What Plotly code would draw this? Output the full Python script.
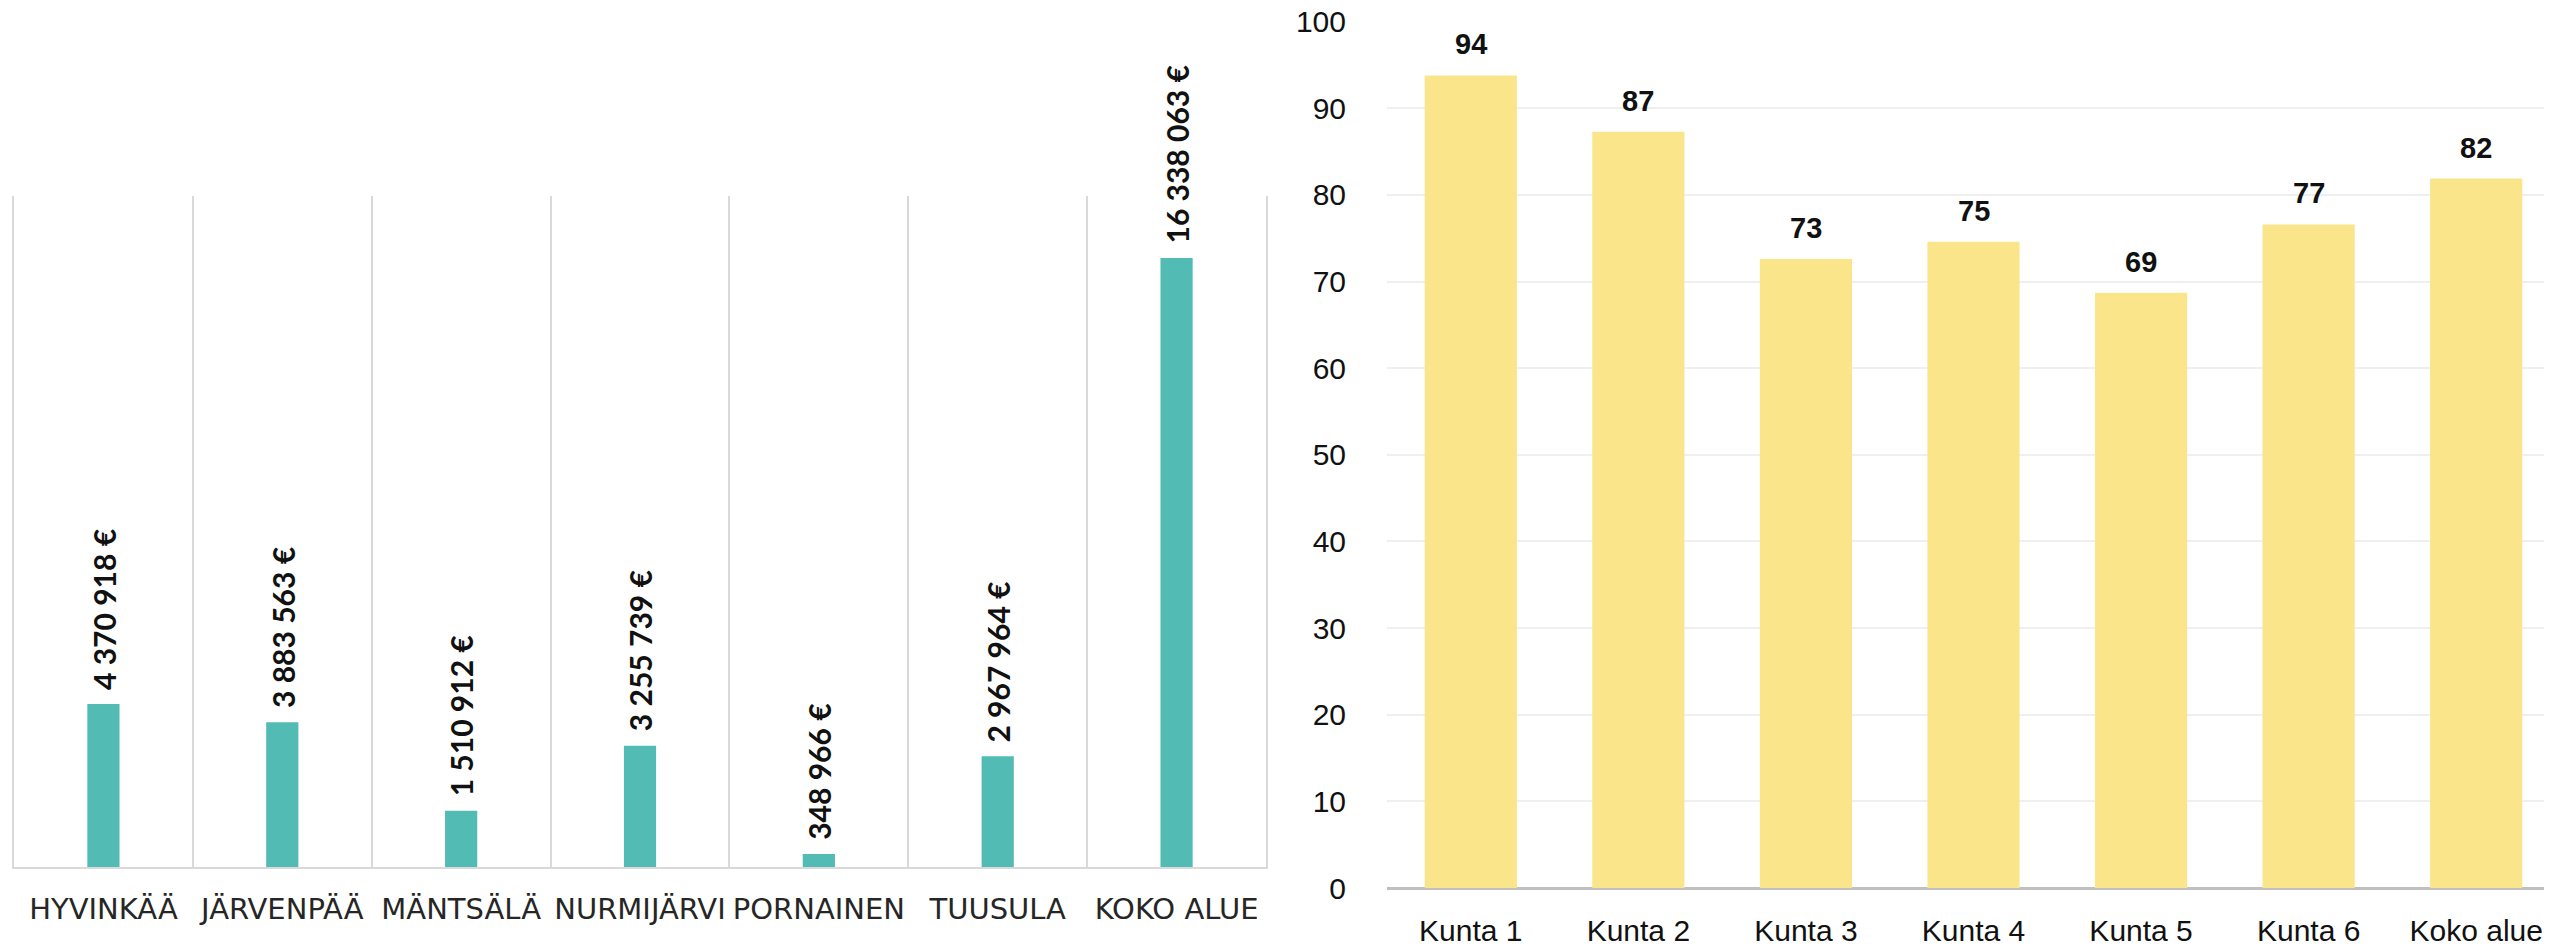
import plotly.graph_objects as go

# Left chart data
left_categories = ["HYVINKÄÄ", "JÄRVENPÄÄ", "MÄNTSÄLÄ", "NURMIJÄRVI", "PORNAINEN", "TUUSULA", "KOKO ALUE"]
left_values = [4370918, 3883563, 1510912, 3255739, 348966, 2967964, 16338063]

# Right chart data
right_categories = ["Kunta 1", "Kunta 2", "Kunta 3", "Kunta 4", "Kunta 5", "Kunta 6", "Koko alue"]
right_values = [93.8, 87.3, 72.6, 74.6, 68.7, 76.6, 81.9]
right_ticks = [0, 10, 20, 30, 40, 50, 60, 70, 80, 90, 100]

W, H = 2552, 950
OFF = 8  # page body margin offset of the plot div
TEAL = "#52BBB4"
YELLOW = "#FAE58A"


def fmt_eur(v):
    return f"{v:,}".replace(",", " ") + " €"


def xdom(a, b):
    return [max(0.0, (a - OFF) / W), min(1.0, (b - OFF) / W)]


def ydom(top, bottom):
    return [(H - (bottom - OFF)) / H, (H - (top - OFF)) / H]


fig = go.Figure()
fig.add_trace(go.Bar(
    x=left_categories, y=left_values, marker_color=TEAL,
    xaxis="x", yaxis="y", hoverinfo="skip", showlegend=False,
))
fig.add_trace(go.Bar(
    x=right_categories, y=right_values, marker_color=YELLOW,
    xaxis="x2", yaxis="y2", hoverinfo="skip", showlegend=False,
    width=0.55,
))

annotations = []
for c, v in zip(left_categories, left_values):
    annotations.append(dict(
        x=c, y=v, xref="x", yref="y", text=fmt_eur(v), showarrow=False,
        textangle=-90, yanchor="bottom", xanchor="center", yshift=12,
        font=dict(family="Lato", size=30, color="#111111", weight="bold"),
    ))
for c, v in zip(right_categories, right_values):
    annotations.append(dict(
        x=c, y=v, xref="x2", yref="y2", text=f"{v:.0f}", showarrow=False,
        yanchor="bottom", xanchor="center", yshift=13,
        font=dict(family="Liberation Sans", size=29, color="#111111", weight="bold"),
    ))

fig.update_layout(
    template="none",
    width=W, height=H,
    margin=dict(l=0, r=0, t=0, b=0, pad=0),
    paper_bgcolor="white", plot_bgcolor="white",
    bargap=0.82,
    annotations=annotations,
    xaxis=dict(
        domain=xdom(14, 1266), type="category", automargin=False,
        tickson="boundaries", showgrid=True, gridcolor="#D9D9D9", gridwidth=2,
        showline=True, linecolor="#D9D9D9", linewidth=2,
        ticks="", ticklabelstandoff=15, zeroline=False, tickangle=0,
        ticklabeloverflow="allow",
        tickfont=dict(family="DejaVu Sans", size=29, color="#262626"),
        fixedrange=True,
    ),
    yaxis=dict(
        domain=ydom(196, 867), range=[0, 18e6], automargin=False,
        showgrid=False, zeroline=False, showticklabels=False,
        showline=True, mirror=True, linecolor="#D9D9D9", linewidth=2, ticks="",
        fixedrange=True,
    ),
    xaxis2=dict(
        domain=xdom(1387, 2560), anchor="y2", type="category", automargin=False,
        range=[-0.5, 6.5], showgrid=False, zeroline=False, tickangle=0,
        showline=False, ticks="", ticklabelstandoff=22,
        ticklabeloverflow="allow",
        tickfont=dict(family="Liberation Sans", size=30, color="#111111"),
        fixedrange=True,
    ),
    yaxis2=dict(
        domain=ydom(21.7, 888), anchor="x2", range=[0, 100], automargin=False,
        tickvals=right_ticks, showgrid=True, gridcolor="#EFEFEF", gridwidth=2,
        zeroline=True, zerolinecolor="#BFBFBF", zerolinewidth=3,
        showline=False, ticks="", ticklabelstandoff=40,
        ticklabeloverflow="allow",
        tickfont=dict(family="Liberation Sans", size=30, color="#111111"),
        fixedrange=True,
    ),
)

fig.write_html("out.html")
